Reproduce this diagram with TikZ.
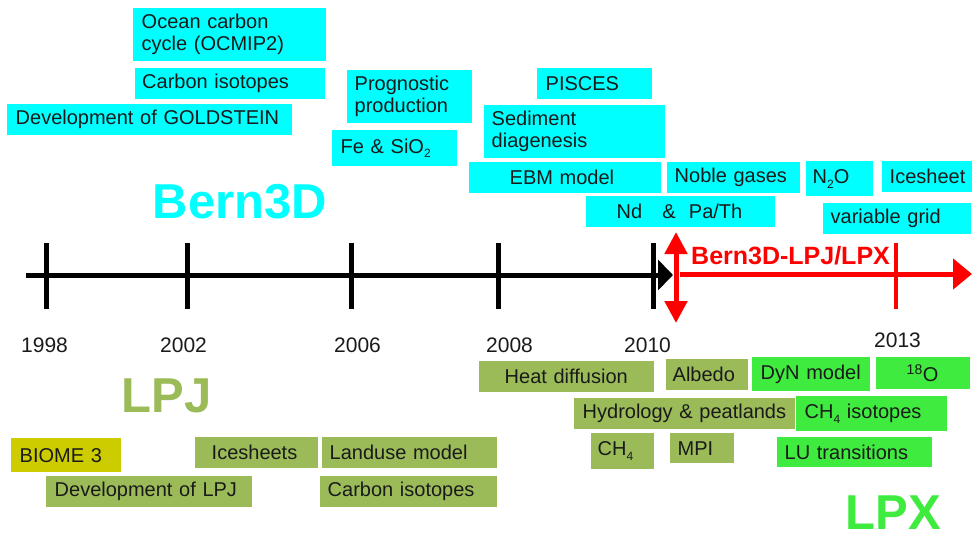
\documentclass[tikz,border=0pt]{standalone}
\usepackage{fontspec}
\setmainfont{Liberation Sans}
\usetikzlibrary{arrows.meta}

\definecolor{boxcyan}{RGB}{0,255,255}
\definecolor{lpjgreen}{RGB}{155,187,89}
\definecolor{lpxgreen}{RGB}{62,235,62}
\definecolor{biomeyellow}{RGB}{204,204,0}
\definecolor{ink}{RGB}{26,26,26}
\definecolor{tlred}{RGB}{255,0,0}

% #1 style, #2 name, (#3,#4) top-left, (#5,#6) bottom-right, #7 text indent, #8 text
% inside #8, \nl starts a new, equally indented line
\newcommand\milestone[8]{%
  \pgfmathsetmacro\msw{#5-#3}\pgfmathsetmacro\msh{#6-#4}%
  \def\msi{#7}%
  \node[mbox,#1,text width=\msw pt,minimum height=\msh pt] (#2) at (#3,#4)
    {\hspace*{\msi pt}#8};}
\newcommand\nl{\\\hspace*{\msi pt}}
\newcommand\lowsub[1]{\raisebox{-0.45ex}{\fontsize{12}{12}\selectfont #1}}

\begin{document}
\begin{tikzpicture}[x=1pt,y=-1pt,
  mbox/.style={anchor=north west,inner xsep=0pt,inner ysep=0pt,align=left,
    text=ink,font=\fontsize{20}{22}\selectfont},
  ocean/.style={fill=boxcyan},
  lpj/.style={fill=lpjgreen},
  lpx/.style={fill=lpxgreen},
  biome/.style={fill=biomeyellow},
  year/.style={anchor=base west,inner sep=0pt,text=ink,font=\fontsize{21}{24}\selectfont},
  model/.style={anchor=base west,inner sep=0pt,font=\bfseries\fontsize{49}{55}\selectfont},
  tick/.style={line width=5pt},
  redtick/.style={line width=4pt,tlred},
  axis/.style={line width=5pt,-{Triangle[length=15pt,width=30pt]}},
  redaxis/.style={line width=5pt,tlred,-{Triangle[length=19pt,width=30pt]}},
  redsplit/.style={line width=5pt,tlred,
    {Triangle[length=22pt,width=22pt]}-{Triangle[length=22pt,width=22pt]}}]

\useasboundingbox (0,0) rectangle (973,536);

% ---- Bern3D ocean model developments
\milestone{ocean}{ocmip}{133}{8}{326}{61}{8.5}{Ocean carbon\nl cycle (OCMIP2)}
\milestone{ocean}{ociso}{135}{68}{325}{99}{7}{Carbon isotopes}
\milestone{ocean}{gold}{7}{104}{292}{135}{8.5}{Development of GOLDSTEIN}
\milestone{ocean}{prog}{347}{70}{472}{123}{7.5}{Prognostic\nl production}
\milestone{ocean}{fesi}{332}{130}{457}{166}{8.5}{Fe \& SiO\lowsub{2}}
\milestone{ocean}{pisces}{537}{68}{652}{99}{8.5}{PISCES}
\milestone{ocean}{sedi}{484}{105}{665}{158}{7.5}{Sediment\nl diagenesis}
\milestone{ocean}{ebm}{469}{162}{661}{193}{40.5}{EBM model}
\milestone{ocean}{ndpa}{586}{196}{775}{227}{30.5}{Nd\ \ \ \&\ \ Pa/Th}
\milestone{ocean}{noble}{667}{162}{800}{193}{7.5}{Noble gases}
\milestone{ocean}{ntwoo}{806}{161}{873}{196}{6.5}{N\lowsub{2}O}
\milestone{ocean}{icesheet}{882}{161}{972}{192}{7.5}{Icesheet}
\milestone{ocean}{vgrid}{823}{203}{971}{234}{7.5}{variable grid}

% ---- LPJ land model developments
\milestone{biome}{biome}{11}{438}{121}{472}{8.5}{BIOME 3}
\milestone{lpj}{icesheets}{195}{437}{318}{468}{16.5}{Icesheets}
\milestone{lpj}{landuse}{322}{437}{497}{468}{7.5}{Landuse model}
\milestone{lpj}{devlpj}{46}{476}{252}{507}{8.5}{Development of LPJ}
\milestone{lpj}{lpjiso}{320}{476}{497}{507}{7.5}{Carbon isotopes}
\milestone{lpj}{heat}{479}{361}{654}{392}{25.5}{Heat diffusion}
\milestone{lpj}{albedo}{666}{359}{748}{390}{6.5}{Albedo}
\milestone{lpj}{hydro}{574}{398}{795}{429}{8.5}{Hydrology \& peatlands}
\milestone{lpj}{methane}{591}{433}{654}{469}{6.5}{CH\lowsub{4}}
\milestone{lpj}{mpi}{670}{433}{734}{463}{7.5}{MPI}

% ---- LPX developments
\milestone{lpx}{dyn}{752}{357}{870}{391}{8.5}{DyN model}
\milestone{lpx}{oxy}{876}{357}{970}{389}{30.5}{\textsuperscript{18}O}
\milestone{lpx}{ch4iso}{796}{396}{947}{431}{8.5}{CH\lowsub{4} isotopes}
\milestone{lpx}{lutrans}{777}{437}{932}{467}{7.5}{LU transitions}

% ---- model names
\node[model,text=boxcyan] (bern) at (152.5,218) {Bern3D};
\node[model,text=lpjgreen] (lpjname) at (121.5,412) {LPJ};
\node[model,text=lpxgreen] (lpxname) at (845.5,529) {LPX};

% ---- time axis
\coordinate (axstart) at (26,275);
\coordinate (axend) at (673,275);
\draw[axis] (axstart) -- (axend);
\foreach \tx in {46,187,351,498,653}
  \draw[tick] (\tx,243) -- (\tx,309);

\node[year] (y1998) at (21,352) {1998};
\node[year] (y2002) at (160,352) {2002};
\node[year] (y2006) at (334,352) {2006};
\node[year] (y2008) at (486,352) {2008};
\node[year] (y2010) at (624,352) {2010};
\node[year] (y2013) at (874,347) {2013};

% ---- coupled model period
\coordinate (splittop) at (676,232);
\coordinate (splitbot) at (676,323);
\draw[redsplit] (splittop) -- (splitbot);
\coordinate (redstart) at (680,274);
\coordinate (redend) at (972,274);
\draw[redaxis] (redstart) -- (redend);
\draw[redtick] (896,243) -- (896,309);
\node[anchor=base west,inner sep=0pt,text=tlred,
  font=\bfseries\fontsize{25}{28}\selectfont] (coupled) at (691,264) {Bern3D-LPJ/LPX};

\end{tikzpicture}
\end{document}
